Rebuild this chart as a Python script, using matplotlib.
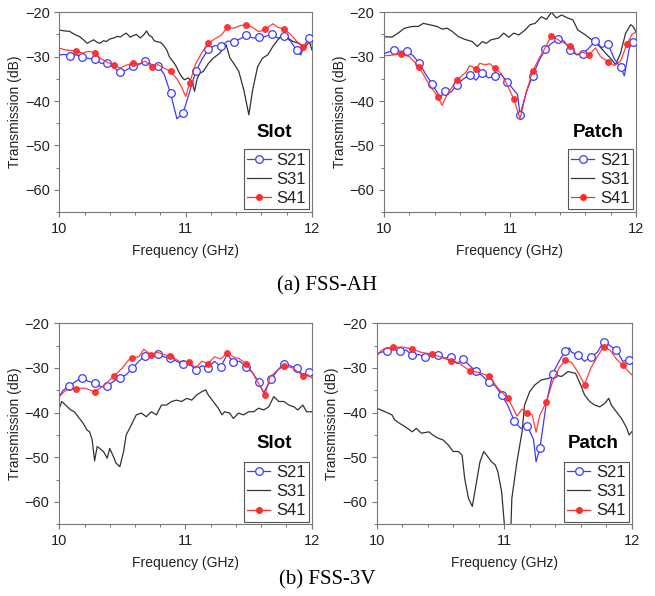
#!/usr/bin/env python3
import numpy as np
import matplotlib as mpl
mpl.use("Agg")
import matplotlib.pyplot as plt
from matplotlib.lines import Line2D
from matplotlib.ticker import MultipleLocator

COLORS = {
    "s21": "#3b3bff",
    "s31": "#333333",
    "s41": "#ff2a2a",
    "spine": "#777777",
    "text": "#222222",
}

# marker positions (GHz) used by the measured traces
S21_MARK_F = [10.08, 10.18, 10.28, 10.38, 10.48, 10.58, 10.68, 10.78, 10.88, 10.98,
              11.08, 11.18, 11.28, 11.38, 11.48, 11.58, 11.68, 11.78, 11.88, 11.98]
S41_MARK_F = [10.13, 10.28, 10.43, 10.58, 10.73, 10.88, 11.03, 11.18, 11.33, 11.48,
              11.63, 11.78, 11.93]

# ---- (a) FSS-AH, slot ----
ah_slot_s21_f = [10.00, 10.04, 10.08, 10.13, 10.18, 10.23, 10.28, 10.33, 10.38, 10.43,
                 10.48, 10.53, 10.58, 10.63, 10.68, 10.73, 10.78, 10.83, 10.88, 10.93,
                 10.98, 11.03, 11.08, 11.13, 11.18, 11.23, 11.28, 11.33, 11.38, 11.43,
                 11.48, 11.53, 11.58, 11.63, 11.68, 11.73, 11.78, 11.83, 11.88, 11.91,
                 11.95, 11.98, 12.00]
ah_slot_s21 = [-29.6, -29.5, -29.8, -29.6, -30.0, -30.4, -30.5, -31.5, -31.5, -32.5,
               -33.5, -33.0, -32.2, -31.8, -30.9, -31.8, -32.0, -34.0, -38.3, -44.0,
               -42.7, -38.0, -33.3, -30.5, -28.3, -27.5, -27.7, -26.5, -26.6, -26.0,
               -25.2, -25.8, -25.6, -25.5, -24.9, -25.8, -25.3, -26.5, -28.6, -29.6,
               -27.0, -25.8, -26.0]
ah_slot_s31_f = [10.00, 10.04, 10.08, 10.12, 10.16, 10.19, 10.22, 10.25, 10.27, 10.30,
                 10.32, 10.35, 10.37, 10.40, 10.43, 10.46, 10.48, 10.51, 10.53, 10.56,
                 10.58, 10.61, 10.64, 10.67, 10.69, 10.71, 10.73, 10.75, 10.77, 10.80,
                 10.82, 10.85, 10.87, 10.89, 10.91, 10.93, 10.95, 10.97, 10.99, 11.02,
                 11.05, 11.07, 11.09, 11.11, 11.14, 11.18, 11.22, 11.27, 11.32, 11.35,
                 11.38, 11.42, 11.46, 11.50, 11.53, 11.57, 11.61, 11.65, 11.69, 11.73,
                 11.77, 11.81, 11.85, 11.90, 11.94, 11.98, 12.00]
ah_slot_s31 = [-24.0, -24.2, -24.3, -25.0, -25.5, -26.2, -27.0, -26.5, -26.2, -26.8,
               -27.0, -26.4, -26.6, -26.0, -25.8, -25.4, -25.6, -25.0, -24.7, -25.6,
               -25.3, -25.0, -25.8, -25.0, -24.2, -25.2, -25.5, -26.4, -26.6, -26.8,
               -27.3, -28.5, -30.0, -30.8, -31.5, -32.5, -33.7, -34.6, -35.2, -34.8,
               -35.6, -37.8, -35.0, -33.8, -33.3, -31.5, -30.3, -29.2, -27.3, -30.3,
               -31.5, -33.3, -37.5, -43.1, -37.5, -32.2, -30.3, -29.6, -27.7, -26.2,
               -25.1, -25.8, -26.6, -27.0, -28.0, -26.6, -28.5]
ah_slot_s41_f = [10.00, 10.05, 10.09, 10.13, 10.18, 10.23, 10.28, 10.33, 10.38, 10.43,
                 10.48, 10.53, 10.58, 10.63, 10.68, 10.73, 10.78, 10.83, 10.88, 10.93,
                 10.97, 11.00, 11.03, 11.08, 11.13, 11.18, 11.23, 11.28, 11.33, 11.38,
                 11.43, 11.48, 11.53, 11.58, 11.63, 11.69, 11.73, 11.78, 11.83, 11.88,
                 11.93, 11.97, 12.00]
ah_slot_s41 = [-28.1, -28.5, -28.6, -28.8, -29.2, -28.8, -29.1, -30.5, -31.3, -31.8,
               -32.6, -31.9, -31.5, -31.6, -31.0, -32.4, -31.8, -32.6, -33.3, -35.0,
               -37.0, -39.0, -36.0, -31.5, -29.0, -27.0, -26.0, -25.2, -23.4, -23.6,
               -23.0, -22.8, -23.4, -24.4, -23.8, -22.6, -23.4, -23.8, -25.0, -26.6,
               -27.9, -27.0, -27.2]

# ---- (a) FSS-AH, patch ----
ah_patch_s21_f = [10.00, 10.03, 10.08, 10.13, 10.18, 10.23, 10.28, 10.33, 10.38, 10.43,
                  10.45, 10.48, 10.53, 10.58, 10.63, 10.68, 10.73, 10.78, 10.83, 10.88,
                  10.93, 10.98, 11.03, 11.06, 11.08, 11.13, 11.18, 11.23, 11.28, 11.33,
                  11.38, 11.43, 11.48, 11.53, 11.58, 11.63, 11.68, 11.73, 11.78, 11.83,
                  11.88, 11.91, 11.95, 11.98, 12.00]
ah_patch_s21 = [-29.3, -29.0, -28.5, -28.8, -28.8, -29.8, -31.5, -34.0, -36.1, -38.5,
                -39.0, -37.8, -38.0, -36.3, -35.0, -34.1, -35.3, -33.6, -34.8, -34.3,
                -34.0, -35.7, -37.5, -38.5, -43.1, -38.0, -34.3, -31.0, -28.3, -27.0,
                -26.1, -26.5, -28.5, -29.6, -29.4, -28.0, -26.4, -28.0, -27.2, -30.5,
                -32.4, -34.3, -28.0, -26.6, -26.6]
ah_patch_s31_f = [10.00, 10.06, 10.11, 10.16, 10.22, 10.27, 10.31, 10.36, 10.42, 10.46,
                  10.50, 10.54, 10.59, 10.64, 10.70, 10.74, 10.78, 10.81, 10.85, 10.91,
                  10.95, 10.99, 11.03, 11.07, 11.12, 11.16, 11.20, 11.25, 11.29, 11.33,
                  11.37, 11.41, 11.46, 11.50, 11.54, 11.60, 11.65, 11.70, 11.76, 11.81,
                  11.84, 11.88, 11.92, 11.96, 11.98, 12.00]
ah_patch_s31 = [-25.5, -25.6, -24.7, -23.6, -23.2, -23.2, -22.5, -22.8, -23.2, -23.8,
                -23.6, -24.3, -25.5, -26.1, -26.6, -27.7, -26.6, -27.0, -26.2, -25.8,
                -24.7, -25.6, -24.7, -25.1, -24.0, -22.8, -22.5, -21.0, -21.6, -20.0,
                -21.3, -20.6, -21.3, -21.7, -24.0, -25.1, -26.2, -27.3, -29.2, -30.7,
                -31.8, -29.2, -24.7, -22.8, -23.2, -24.3]
ah_patch_s41_f = [10.00, 10.05, 10.13, 10.20, 10.28, 10.35, 10.43, 10.46, 10.50, 10.58,
                  10.65, 10.68, 10.73, 10.76, 10.80, 10.84, 10.88, 10.93, 10.98, 11.03,
                  11.08, 11.13, 11.18, 11.23, 11.28, 11.33, 11.40, 11.48, 11.53, 11.58,
                  11.63, 11.68, 11.72, 11.78, 11.83, 11.88, 11.93, 11.97, 12.00]
ah_patch_s41 = [-29.8, -29.7, -29.4, -30.0, -32.4, -36.0, -39.2, -41.0, -38.5, -35.2,
                -33.5, -32.0, -32.7, -31.5, -31.8, -31.6, -32.6, -33.8, -36.5, -39.5,
                -44.0, -38.0, -33.3, -30.5, -28.0, -25.3, -26.5, -27.6, -29.5, -29.0,
                -29.6, -28.0, -30.0, -31.1, -32.0, -31.0, -27.2, -25.0, -24.5]

# ---- (b) FSS-3V, slot ----
v3_slot_s21_f = [10.00, 10.03, 10.08, 10.13, 10.18, 10.23, 10.28, 10.33, 10.38, 10.43,
                 10.48, 10.53, 10.58, 10.63, 10.68, 10.73, 10.78, 10.83, 10.88, 10.93,
                 10.98, 11.03, 11.08, 11.13, 11.18, 11.23, 11.28, 11.33, 11.38, 11.43,
                 11.48, 11.53, 11.58, 11.62, 11.68, 11.73, 11.78, 11.83, 11.88, 11.93,
                 11.98, 12.00]
v3_slot_s21 = [-36.4, -35.0, -34.0, -33.0, -32.3, -33.0, -33.3, -34.2, -34.0, -33.0,
               -32.2, -31.5, -30.1, -28.5, -27.3, -27.5, -26.9, -27.5, -27.8, -28.5,
               -29.2, -29.0, -30.4, -29.5, -29.9, -28.5, -29.7, -27.0, -28.6, -28.5,
               -29.7, -31.0, -33.2, -35.5, -32.5, -30.5, -29.0, -29.5, -30.1, -31.5,
               -31.0, -31.2]
v3_slot_s31_f = [10.00, 10.02, 10.05, 10.09, 10.12, 10.16, 10.19, 10.22, 10.24, 10.26,
                 10.28, 10.30, 10.32, 10.35, 10.38, 10.40, 10.43, 10.45, 10.48, 10.51,
                 10.53, 10.57, 10.61, 10.65, 10.69, 10.73, 10.77, 10.81, 10.85, 10.89,
                 10.93, 10.97, 11.01, 11.05, 11.09, 11.13, 11.16, 11.18, 11.22, 11.26,
                 11.29, 11.31, 11.35, 11.38, 11.42, 11.46, 11.50, 11.54, 11.58, 11.62,
                 11.66, 11.70, 11.74, 11.78, 11.82, 11.86, 11.89, 11.93, 11.96, 12.00]
v3_slot_s31 = [-39.0, -37.5, -38.3, -39.4, -39.8, -41.3, -42.4, -43.9, -44.3, -46.0,
               -50.8, -47.6, -48.0, -48.7, -50.2, -48.0, -49.9, -51.3, -52.1, -48.7,
               -45.0, -42.8, -40.5, -40.1, -40.9, -39.8, -40.5, -38.3, -38.3, -37.5,
               -37.2, -37.5, -36.8, -37.2, -36.0, -35.3, -34.9, -36.0, -37.5, -39.0,
               -40.5, -39.8, -40.1, -41.3, -40.1, -40.5, -39.8, -39.8, -39.0, -39.4,
               -38.7, -36.4, -37.5, -37.5, -38.3, -38.7, -39.4, -38.3, -39.8, -39.8]
v3_slot_s41_f = [10.00, 10.05, 10.13, 10.20, 10.28, 10.35, 10.43, 10.50, 10.55, 10.58,
                 10.63, 10.67, 10.73, 10.78, 10.83, 10.88, 10.95, 11.03, 11.08, 11.13,
                 11.18, 11.23, 11.28, 11.33, 11.38, 11.43, 11.48, 11.53, 11.58, 11.63,
                 11.67, 11.73, 11.78, 11.85, 11.93, 11.97, 12.00]
v3_slot_s41 = [-36.4, -35.0, -34.6, -34.5, -35.3, -34.0, -31.9, -30.0, -28.2, -27.8,
               -27.5, -25.8, -27.1, -26.5, -27.0, -27.3, -28.5, -28.6, -30.0, -28.5,
               -29.0, -27.5, -28.0, -26.6, -27.5, -28.0, -29.0, -31.0, -33.5, -36.0,
               -32.0, -30.5, -29.5, -30.0, -31.7, -31.5, -32.2]

# ---- (b) FSS-3V, patch ----
v3_patch_s21_f = [10.00, 10.03, 10.08, 10.13, 10.18, 10.23, 10.28, 10.33, 10.38, 10.43,
                  10.48, 10.53, 10.58, 10.63, 10.68, 10.73, 10.78, 10.83, 10.88, 10.93,
                  10.98, 11.03, 11.08, 11.13, 11.18, 11.23, 11.25, 11.28, 11.33, 11.38,
                  11.43, 11.48, 11.51, 11.53, 11.58, 11.63, 11.68, 11.73, 11.78, 11.83,
                  11.88, 11.93, 11.98, 12.00]
v3_patch_s21 = [-27.1, -26.5, -26.2, -25.8, -26.2, -26.0, -27.1, -27.0, -27.5, -27.0,
                -27.1, -27.8, -27.5, -29.0, -28.0, -29.5, -30.7, -31.8, -33.1, -34.0,
                -36.0, -38.5, -41.9, -43.5, -42.9, -46.0, -51.0, -48.0, -38.0, -31.3,
                -28.5, -26.2, -25.5, -26.5, -27.1, -28.5, -27.5, -26.5, -24.1, -25.0,
                -26.0, -28.5, -28.1, -28.0]
v3_patch_s31_f = [10.00, 10.05, 10.09, 10.12, 10.14, 10.18, 10.22, 10.28, 10.31, 10.35,
                  10.41, 10.44, 10.48, 10.52, 10.56, 10.60, 10.64, 10.67, 10.69, 10.72,
                  10.75, 10.77, 10.81, 10.84, 10.88, 10.90, 10.93, 10.95, 10.98, 11.01,
                  11.05, 11.06, 11.10, 11.14, 11.16, 11.20, 11.24, 11.29, 11.35, 11.40,
                  11.45, 11.50, 11.56, 11.60, 11.63, 11.67, 11.71, 11.75, 11.79, 11.82,
                  11.84, 11.88, 11.92, 11.96, 11.98, 12.00]
v3_patch_s31 = [-39.0, -39.6, -40.1, -40.5, -41.6, -42.4, -43.1, -44.3, -43.5, -44.6,
                -44.3, -45.0, -45.7, -46.1, -47.2, -48.7, -48.7, -49.5, -54.7, -59.2,
                -61.0, -57.7, -51.0, -48.7, -50.2, -51.0, -51.7, -53.2, -57.7, -68.0,
                -68.0, -59.2, -51.0, -44.3, -38.3, -35.3, -33.8, -32.7, -32.3, -31.6,
                -31.9, -30.8, -31.2, -33.8, -36.0, -37.5, -38.3, -38.7, -37.9, -36.8,
                -38.3, -39.8, -41.3, -43.4, -45.0, -44.3]
v3_patch_s41_f = [10.00, 10.05, 10.13, 10.20, 10.28, 10.35, 10.43, 10.50, 10.58, 10.65,
                  10.73, 10.80, 10.88, 10.95, 11.03, 11.07, 11.10, 11.14, 11.18, 11.22,
                  11.25, 11.28, 11.33, 11.38, 11.43, 11.48, 11.53, 11.58, 11.63, 11.68,
                  11.73, 11.78, 11.83, 11.88, 11.93, 12.00]
v3_patch_s41 = [-27.0, -25.8, -25.4, -25.3, -25.8, -26.5, -26.9, -27.5, -28.4, -29.0,
                -30.6, -31.0, -31.8, -34.5, -36.8, -39.0, -40.8, -39.2, -40.0, -40.5,
                -44.4, -40.5, -37.7, -33.0, -30.0, -28.2, -28.8, -31.0, -33.7, -30.0,
                -27.5, -25.2, -26.0, -28.0, -29.4, -31.5]

PANELS = [
    # (axes rect in figure fraction, tag, s21, s31, s41)
    ([0.0908, 0.6443, 0.3855, 0.3351], "Slot",
     (ah_slot_s21_f, ah_slot_s21), (ah_slot_s31_f, ah_slot_s31), (ah_slot_s41_f, ah_slot_s41)),
    ([0.5867, 0.6443, 0.3838, 0.3351], "Patch",
     (ah_patch_s21_f, ah_patch_s21), (ah_patch_s31_f, ah_patch_s31), (ah_patch_s41_f, ah_patch_s41)),
    ([0.0905, 0.1203, 0.3853, 0.3372], "Slot",
     (v3_slot_s21_f, v3_slot_s21), (v3_slot_s31_f, v3_slot_s31), (v3_slot_s41_f, v3_slot_s41)),
    ([0.5751, 0.1203, 0.3893, 0.3372], "Patch",
     (v3_patch_s21_f, v3_patch_s21), (v3_patch_s31_f, v3_patch_s31), (v3_patch_s41_f, v3_patch_s41)),
]

CAPTIONS = ["(a) FSS-AH", "(b) FSS-3V"]


def apply_style() -> None:
    mpl.rcParams.update(
        {
            "font.family": ["Liberation Sans", "DejaVu Sans"],
            "font.size": 10,
            "axes.labelsize": 10,
            "xtick.labelsize": 10.5,
            "ytick.labelsize": 10.5,
            "axes.linewidth": 0.8,
            "axes.edgecolor": COLORS["spine"],
            "axes.labelcolor": COLORS["text"],
            "text.color": COLORS["text"],
            "xtick.color": COLORS["spine"],
            "ytick.color": COLORS["spine"],
            "xtick.labelcolor": COLORS["text"],
            "ytick.labelcolor": COLORS["text"],
        }
    )


def marks(f, mark_f):
    return list(np.isin(np.round(np.asarray(f), 2), np.round(mark_f, 2)))


def draw_panel(fig, rect, tag, s21, s31, s41):
    ax = fig.add_axes(rect)
    ax.plot(s31[0], s31[1], color=COLORS["s31"], lw=0.9, zorder=2)
    ax.plot(s21[0], s21[1], color=COLORS["s21"], lw=0.9, marker="o", ms=5.5,
            mfc="white", mec=COLORS["s21"], mew=0.9,
            markevery=marks(s21[0], S21_MARK_F), zorder=3)
    ax.plot(s41[0], s41[1], color=COLORS["s41"], lw=0.9, alpha=0.9, marker="o", ms=4,
            mfc=COLORS["s41"], mec=COLORS["s41"],
            markevery=marks(s41[0], S41_MARK_F), zorder=4)

    ax.set_xlim(10, 12)
    ax.set_ylim(-65, -20)
    ax.xaxis.set_major_locator(MultipleLocator(1))
    ax.xaxis.set_minor_locator(MultipleLocator(0.2))
    ax.yaxis.set_major_locator(MultipleLocator(10))
    ax.yaxis.set_minor_locator(MultipleLocator(5))
    ax.tick_params(which="major", direction="out", length=3.5, width=0.8)
    ax.tick_params(which="minor", direction="out", length=2, width=0.7)
    ax.set_xlabel("Frequency (GHz)", labelpad=6)
    ax.set_ylabel("Transmission (dB)", labelpad=2)

    ax.text(0.85, 0.40, tag, transform=ax.transAxes, ha="center", va="center",
            fontsize=13.5, fontweight="bold", color="black")

    handles = [
        Line2D([], [], color=COLORS["s21"], lw=0.9, marker="o", ms=5.5, mfc="white",
               mec=COLORS["s21"], mew=0.9),
        Line2D([], [], color=COLORS["s31"], lw=0.9),
        Line2D([], [], color=COLORS["s41"], lw=0.9, marker="o", ms=4,
               mfc=COLORS["s41"], mec=COLORS["s41"]),
    ]
    leg = ax.legend(handles, ["S21", "S31", "S41"], loc="lower right", fontsize=12,
                    frameon=True, fancybox=False, framealpha=1, edgecolor="#555555",
                    borderaxespad=0.15, borderpad=0.2, labelspacing=0.25,
                    handlelength=1.4, handletextpad=0.35)
    leg.get_frame().set_linewidth(0.8)
    return ax


def main() -> None:
    apply_style()
    fig = plt.figure(figsize=(6.55, 5.96), dpi=100, facecolor="white")
    for rect, tag, s21, s31, s41 in PANELS:
        draw_panel(fig, rect, tag, s21, s31, s41)

    fig.text(0.5, 1 - 286 / 596, CAPTIONS[0], ha="center", va="center",
             family="Liberation Serif", fontsize=15, color="black")
    fig.text(0.5, 1 - 580 / 596, CAPTIONS[1], ha="center", va="center",
             family="Liberation Serif", fontsize=15, color="black")

    fig.savefig("out.png", dpi=100, facecolor="white")
    plt.close(fig)


if __name__ == "__main__":
    main()
